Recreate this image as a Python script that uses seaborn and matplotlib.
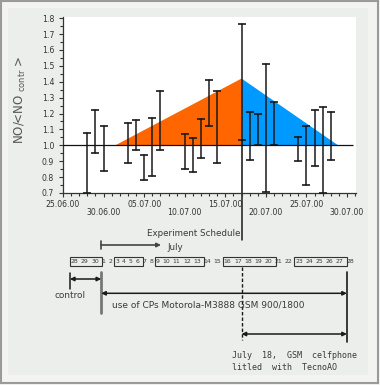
import matplotlib
matplotlib.use("Agg")
import matplotlib.pyplot as plt
from matplotlib.patches import Rectangle
from matplotlib.ticker import MultipleLocator
import seaborn as sns
import numpy as np
import pandas as pd

# ---------------- data ----------------
meas_dates = ["28.06.00", "29.06.00", "30.06.00", "03.07.00", "04.07.00", "05.07.00",
              "06.07.00", "07.07.00", "10.07.00", "11.07.00", "12.07.00", "13.07.00",
              "14.07.00", "17.07.00", "18.07.00", "19.07.00", "20.07.00", "21.07.00",
              "24.07.00", "25.07.00", "26.07.00", "27.07.00", "28.07.00"]
ratio_low = [0.70, 0.95, 0.84, 0.89, 0.97, 0.78, 0.81, 0.97, 0.85, 0.83, 0.92, 1.12,
             0.89, 1.035, 0.91, 1.00, 0.705, 1.00, 0.90, 0.75, 0.87, 0.70, 0.905]
ratio_high = [1.08, 1.22, 1.12, 1.14, 1.16, 0.94, 1.17, 1.34, 1.07, 1.045, 1.165, 1.41,
              1.34, 1.765, 1.21, 1.20, 1.51, 1.275, 1.055, 1.12, 1.225, 1.24, 1.21]
x_tick_labels = ["25.06.00", "30.06.00", "05.07.00", "10.07.00",
                 "15.07.00", "20.07.00", "25.07.00", "30.07.00"]
y_ticks = [0.7, 0.8, 0.9, 1.0, 1.1, 1.2, 1.3, 1.4, 1.5, 1.6, 1.7, 1.8]
rise_x = [6.45, 22.0, 22.0]
rise_y = [1.0, 1.42, 1.0]
fall_x = [22.0, 22.0, 33.9]
fall_y = [1.0, 1.42, 1.0]
baseline = 1.0
event_date = "17.07.00"
sched_days = [28, 29, 30, 1, 2, 3, 4, 5, 6, 7, 8, 9, 10, 11, 12, 13, 14, 15, 16, 17,
              18, 19, 20, 21, 22, 23, 24, 25, 26, 27, 28]
sched_boxes = [(0, 2), (5, 8), (11, 15), (18, 22), (25, 29)]

start = pd.Timestamp("2000-06-25")
days = np.asarray((pd.to_datetime(meas_dates, format="%d.%m.%y") - start).days, dtype=float)
event_day = float((pd.to_datetime(event_date, format="%d.%m.%y") - start).days)
event_idx = int(np.where(days == event_day)[0][0])

df = pd.DataFrame({"day": np.concatenate([days, days]),
                   "ratio": np.concatenate([ratio_low, ratio_high])})

# ---------------- figure ----------------
sns.set_style("white")
plt.rcParams["font.family"] = ["DejaVu Sans"]

W, H = 380, 385
fig = plt.figure(figsize=(W / 100, H / 100), dpi=100)
fig.patch.set_facecolor("#f3f3f1")

bg = fig.add_axes([0, 0, 1, 1], zorder=-1)
bg.set_xlim(0, W)
bg.set_ylim(H, 0)
bg.axis("off")
bg.add_patch(Rectangle((1, 1), 377, 382, facecolor="#f3f3f1", edgecolor="#9a9a9a", lw=1.5, zorder=0))
bg.add_patch(Rectangle((8, 8), 360, 367, facecolor="#eceeeb", edgecolor="none", zorder=0.5))

ax = fig.add_axes([63 / W, (H - 193) / H, (356 - 63) / W, (193 - 17) / H])
ax.set_facecolor("white")

ax.fill(rise_x, rise_y, color="#ff6600", lw=0, zorder=1)
ax.fill(fall_x, fall_y, color="#0099ff", lw=0, zorder=1)

sns.lineplot(data=df, x="day", y="ratio", estimator="mean", errorbar=("pi", 100),
             err_style="bars", color="#1a1a1a", linestyle="", ax=ax,
             err_kws=dict(capsize=3, elinewidth=1.1, capthick=1.2, zorder=3))

ax.hlines(baseline, 0, 35.7, color="#111111", lw=0.9, zorder=4)
ax.vlines(event_day, 0.7, ratio_low[event_idx], color="#111111", lw=1.1, zorder=3)

ax.set_xlim(0, 36.1)
ax.set_ylim(0.7, 1.807)
ax.set_xlabel("")
ax.set_ylabel("")

for s in ["top", "right"]:
    ax.spines[s].set_visible(False)
for s in ["left", "bottom"]:
    ax.spines[s].set_color("#333333")
    ax.spines[s].set_linewidth(0.9)

ax.set_yticks(y_ticks)
ax.set_yticklabels([f"{v:.1f}" for v in y_ticks])
ax.yaxis.set_minor_locator(MultipleLocator(0.05))
ax.set_xticks([5 * i for i in range(len(x_tick_labels))])
ax.set_xticklabels(x_tick_labels)
ax.xaxis.set_minor_locator(MultipleLocator(1))

ax.tick_params(which="both", direction="out", color="#333333", width=0.8,
               labelsize=5.6, labelcolor="#333333", left=True, bottom=True)
ax.tick_params(which="major", length=3.2)
ax.tick_params(which="minor", length=2.2)
ax.tick_params(axis="y", which="major", pad=3.2)
ax.tick_params(axis="x", which="major", pad=1.8)
for i, t in enumerate(ax.xaxis.get_major_ticks()):
    if i % 2 == 1:
        t.set_pad(7.3)

fig.text(20 / W, (H - 100) / H, r"NO/<NO $_{\mathrm{contr}}$ >", rotation=90,
         ha="center", va="center", fontsize=8.5, color="#555555")

# ---------------- schedule (pixel coordinates) ----------------
ev_disp = ax.transData.transform((event_day, 0.7))
ev_x = ev_disp[0]
axis_y = H - ev_disp[1]

dark = "#1a1a1a"
txt = "#3a3a3a"

bg.plot([ev_x, ev_x], [axis_y, 240], color=dark, lw=1.1, zorder=2)

# day numbers laid out as a monospace-like string
labels = [str(d) for d in sched_days]
centers = []
pos = 0
for lab in labels:
    centers.append(pos + (len(lab) - 1) / 2)
    pos += len(lab) + 1
cx = [73 + 3.4 * c for c in centers]
hw = [2.0 * len(lab) for lab in labels]
row_y = 261.3
for lab, x in zip(labels, cx):
    bg.text(x, row_y, lab, ha="center", va="center", fontsize=4.4, color=txt, zorder=3)

box_edges = []
for a, b in sched_boxes:
    left = cx[a] - hw[a] - 0.8
    right = cx[b + 1] - hw[b + 1] + 0.8
    box_edges.append((left, right))
    bg.add_patch(Rectangle((left, 256.7), right - left, 9.3, facecolor="none",
                           edgecolor="#333333", lw=0.8, zorder=3))

x_start = box_edges[0][1] - 1.2
x_left = box_edges[0][0]
x_end = box_edges[-1][1]

bg.text(147, 233, "Experiment Schedule", ha="left", va="center", fontsize=6.3, color=txt)
bg.plot([x_start, x_start], [241, 249], color="#444444", lw=1.2)
bg.annotate("", xy=(161, 245), xytext=(x_start, 245),
            arrowprops=dict(arrowstyle="-|>", lw=1.2, color="#444444",
                            mutation_scale=6, shrinkA=0, shrinkB=0))
bg.text(167, 247, "July", ha="left", va="center", fontsize=6.3, color=txt)

# control
bg.plot([x_left, x_left], [273, 289], color=dark, lw=1.1)
bg.annotate("", xy=(x_start, 279), xytext=(x_left, 279),
            arrowprops=dict(arrowstyle="<|-|>", lw=1.1, color=dark,
                            mutation_scale=6, shrinkA=0, shrinkB=0))
bg.text(x_left + 0.5, 295.5, "control", ha="center", va="center",
        fontsize=6.4, color=txt)

# CPs usage
bg.plot([x_start, x_start], [271.7, 312.7], color="#777777", lw=2.0)
bg.plot([x_end, x_end], [271.7, 341.7], color=dark, lw=1.2)
bg.annotate("", xy=(x_end, 293.3), xytext=(x_start, 293.3),
            arrowprops=dict(arrowstyle="<|-|>", lw=1.1, color=dark,
                            mutation_scale=6, shrinkA=0, shrinkB=0))
bg.text(112, 305.5, "use of CPs Motorola-M3888 GSM 900/1800", ha="left", va="center",
        fontsize=6.5, color=txt)

# TecnoAO
bg.plot([ev_x, ev_x], [267, 340], color=dark, lw=1.0, linestyle=(0, (2.5, 1.5)))
bg.annotate("", xy=(x_end, 334), xytext=(ev_x, 334),
            arrowprops=dict(arrowstyle="<|-|>", lw=1.1, color=dark,
                            mutation_scale=6, shrinkA=0, shrinkB=0))
bg.text(232, 356, "July  18,  GSM  celfphone", ha="left", va="center",
        fontsize=6.0, color=txt, family="DejaVu Sans Mono")
bg.text(232, 367.5, "litled  with  TecnoAO", ha="left", va="center",
        fontsize=6.0, color=txt, family="DejaVu Sans Mono")

fig.savefig("out.png", dpi=100, facecolor=fig.get_facecolor())
